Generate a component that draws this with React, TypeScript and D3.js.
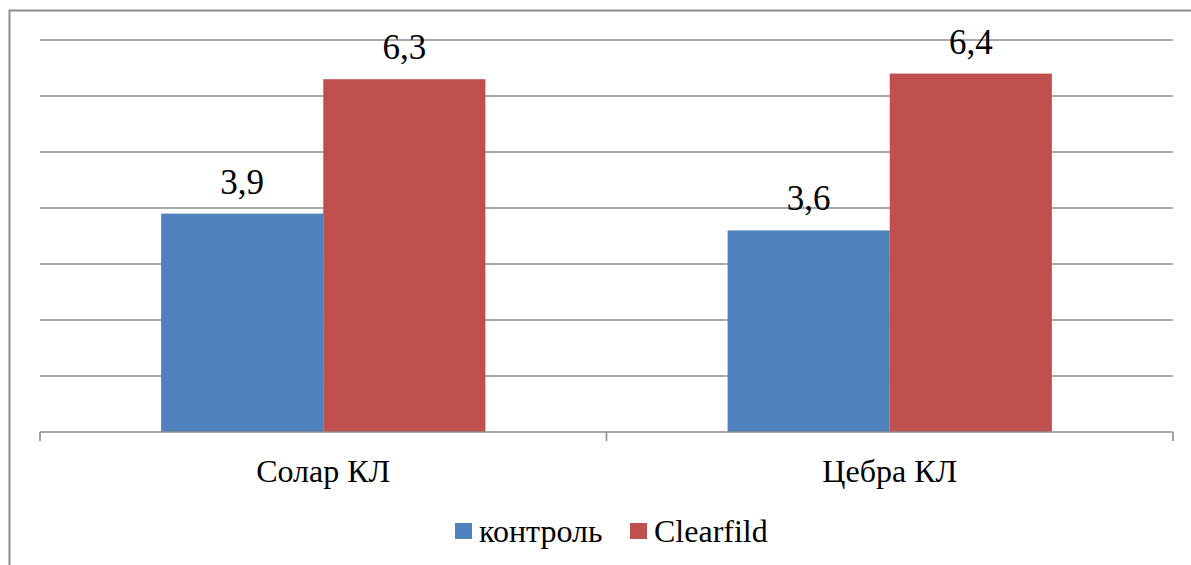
import React from "react";
import * as d3 from "d3";

const categories = ["Солар КЛ", "Цебра КЛ"];
const seriesNames = ["контроль", "Clearfild"];
const controlValues = [3.9, 3.6];
const clearfildValues = [6.3, 6.4];
const labelTexts = [["3,9", "6,3"], ["3,6", "6,4"]];
const colors = ["#4F81BD", "#C0504D"];
const yTicks = [0, 1, 2, 3, 4, 5, 6, 7];

const W = 1191;
const H = 565;
const FONT = "Liberation Serif";

export default function App() {
  const left = 40, right = 1173, top = 40, bottom = 432;
  const x0 = d3.scaleBand<string>().domain(categories).range([left, right]).padding(0);
  const x1 = d3
    .scaleBand<string>()
    .domain(seriesNames)
    .range([0, x0.bandwidth()])
    .paddingInner(0)
    .paddingOuter(0.747);
  const y = d3.scaleLinear().domain([0, 7]).range([bottom, top]);
  const series = [controlValues, clearfildValues];
  const grid = "#8C8C8C";

  return (
    <svg width={W} height={H} style={{ position: "absolute", left: 0, top: 0 }}>
      <style>{`text { font-family: "Liberation Serif", "Times New Roman", Tinos, serif !important; }`}</style>
      <rect x={9.5} y={10.5} width={W + 20} height={H + 20} fill="#fff" stroke={grid} strokeWidth={2} />
      {yTicks.slice(1).map((t) => (
        <line key={t} x1={left} x2={right} y1={y(t)} y2={y(t)} stroke={grid} strokeWidth={1.6} />
      ))}
      {categories.map((c, ci) =>
        seriesNames.map((s, si) => {
          const v = series[si][ci];
          const bx = (x0(c) as number) + (x1(s) as number);
          return (
            <g key={c + s}>
              <rect x={bx} y={y(v)} width={x1.bandwidth()} height={bottom - y(v)} fill={colors[si]} />
              <text
                x={bx + x1.bandwidth() / 2}
                y={y(v) - 20}
                textAnchor="middle"
                fontSize={35}
                fontFamily={FONT}
                style={{ fontFamily: FONT }}
              >
                {labelTexts[ci][si]}
              </text>
            </g>
          );
        })
      )}
      <line x1={left} x2={right} y1={bottom} y2={bottom} stroke={grid} strokeWidth={1.6} />
      {[left, left + x0.step(), right].map((tx, i) => (
        <line key={i} x1={tx} x2={tx} y1={bottom} y2={bottom + 9} stroke={grid} strokeWidth={1.6} />
      ))}
      {categories.map((c) => (
        <text
          key={c}
          x={(x0(c) as number) + x0.bandwidth() / 2}
          y={482}
          textAnchor="middle"
          fontSize={32}
          fontFamily={FONT}
          style={{ fontFamily: FONT }}
        >
          {c}
        </text>
      ))}
      {seriesNames.map((s, i) => {
        const lx = [455, 630][i];
        return (
          <g key={s}>
            <rect x={lx} y={523} width={17} height={16} fill={colors[i]} />
            <text x={lx + 24} y={542} fontSize={32} fontFamily={FONT} style={{ fontFamily: FONT }}>
              {s}
            </text>
          </g>
        );
      })}
    </svg>
  );
}
